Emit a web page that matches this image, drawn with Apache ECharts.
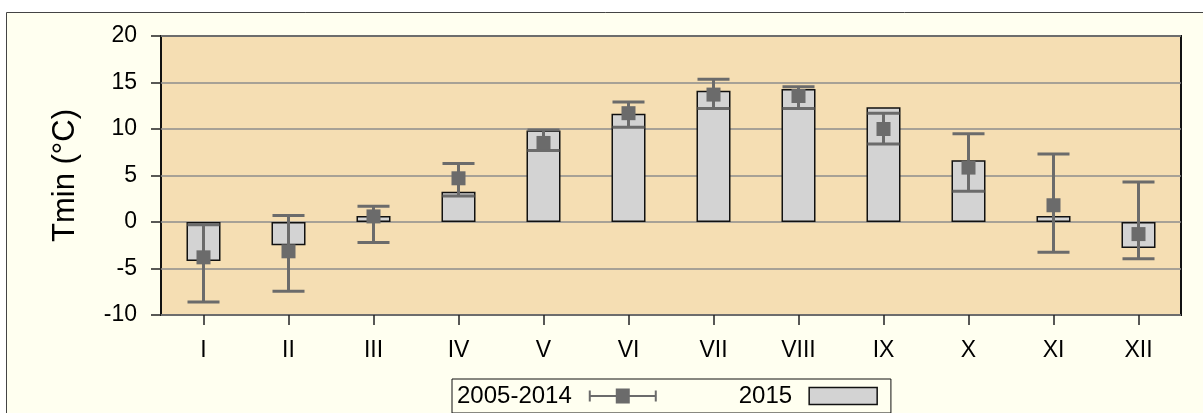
<!DOCTYPE html>
<html>
<head>
<meta charset="utf-8">
<script src="https://cdn.jsdelivr.net/npm/echarts@6/dist/echarts.min.js"></script>
<style>
  html, body { margin: 0; padding: 0; background: #ffffff; }
  #chart { width: 1203px; height: 413px; }
</style>
</head>
<body>
<div id="chart"></div>
<script>
// Months (Roman numerals)
const months = ['I', 'II', 'III', 'IV', 'V', 'VI', 'VII', 'VIII', 'IX', 'X', 'XI', 'XII'];

// 2015 monthly Tmin (bars)
const tmin2015 = [-4.2, -2.5, 0.65, 3.25, 9.85, 11.65, 14.1, 14.3, 12.35, 6.65, 0.65, -2.8];

// 2005-2014 mean and range (marker + error bar)
const meanRef = [-3.8, -3.15, 0.6, 4.7, 8.5, 11.7, 13.7, 13.55, 10.0, 5.85, 1.8, -1.3];
const lowRef = [-8.6, -7.45, -2.2, 2.8, 7.7, 10.2, 12.2, 12.2, 8.4, 3.3, -3.25, -3.95];
const highRef = [-0.3, 0.7, 1.7, 6.3, 9.9, 12.9, 15.35, 14.55, 11.7, 9.5, 7.3, 4.3];

const yTicks = { min: -10, max: 20, interval: 5 };

const FONT = '"Liberation Sans", Arial, sans-serif';
const ERR_COLOR = '#6b6b6b';

const chart = echarts.init(document.getElementById('chart'));

// legend icon: horizontal error bar with square marker
const errIcon = 'path://M0,3h2v11h-2z M66,3h2v11h-2z M0,7.5h68v2h-68z M27,1h14v15h-14z';

const option = {
  animation: false,
  textStyle: { fontFamily: FONT },
  graphic: [{
    type: 'rect',
    z: -10,
    silent: true,
    shape: { x: 6.5, y: 12.5, width: 1220, height: 420 },
    style: { fill: '#fffff0', stroke: '#444444', lineWidth: 1 }
  }],
  grid: {
    left: 161, right: 22, top: 36, bottom: 98,
    show: true,
    backgroundColor: '#f5deb3',
    borderColor: '#111111',
    borderWidth: 2
  },
  legend: {
    left: 452, top: 379,
    padding: [5, 13, 5, 5],
    backgroundColor: '#fffff0',
    borderColor: '#111111',
    borderWidth: 1,
    align: 'right',
    itemGap: 82,
    itemWidth: 68,
    itemHeight: 17,
    selectedMode: false,
    textStyle: { fontFamily: FONT, fontSize: 24, color: '#000', padding: [0, 12, 0, 0] },
    data: [
      { name: '2005-2014', icon: errIcon, itemStyle: { color: ERR_COLOR, borderWidth: 0 } },
      { name: '2015', icon: 'rect', itemStyle: { color: '#d3d3d3', borderColor: '#111', borderWidth: 1.5 } }
    ]
  },
  xAxis: {
    type: 'category',
    data: months,
    boundaryGap: true,
    axisLine: { show: false, onZero: false },
    axisTick: { show: true, alignWithLabel: true, length: 10, lineStyle: { color: '#222', width: 1.5 } },
    axisLabel: { color: '#000', fontSize: 23, fontFamily: FONT, margin: 24 },
    splitLine: { show: false }
  },
  yAxis: {
    type: 'value',
    min: yTicks.min,
    max: yTicks.max,
    interval: yTicks.interval,
    name: 'Tmin (°C)',
    nameLocation: 'middle',
    nameGap: 80,
    nameTextStyle: { fontSize: 31, fontFamily: FONT, color: '#000' },
    axisLine: { show: false },
    axisTick: { show: true, length: 10, lineStyle: { color: '#222', width: 1.5 } },
    axisLabel: { color: '#000', fontSize: 23, fontFamily: FONT, margin: 24 },
    splitLine: { show: true, lineStyle: { color: '#8c8c8c', width: 1.5 } }
  },
  series: [
    {
      name: '2015',
      type: 'bar',
      data: tmin2015,
      barWidth: 34,
      z: 2,
      itemStyle: { color: '#d3d3d3', borderColor: '#111', borderWidth: 1.5 }
    },
    {
      name: '2005-2014',
      type: 'custom',
      z: 3,
      data: months.map((m, i) => [i, lowRef[i], highRef[i]]),
      renderItem: function (params, api) {
        const lo = api.coord([api.value(0), api.value(1)]);
        const hi = api.coord([api.value(0), api.value(2)]);
        const hw = 16;
        const style = { stroke: ERR_COLOR, lineWidth: 3, fill: null };
        return {
          type: 'group',
          children: [
            { type: 'line', shape: { x1: lo[0], y1: lo[1], x2: hi[0], y2: hi[1] }, style: style },
            { type: 'line', shape: { x1: lo[0] - hw, y1: lo[1], x2: lo[0] + hw, y2: lo[1] }, style: style },
            { type: 'line', shape: { x1: hi[0] - hw, y1: hi[1], x2: hi[0] + hw, y2: hi[1] }, style: style }
          ]
        };
      }
    },
    {
      name: '2005-2014',
      type: 'scatter',
      z: 4,
      data: meanRef,
      symbol: 'rect',
      symbolSize: 14,
      itemStyle: { color: ERR_COLOR, opacity: 1 }
    }
  ]
};

chart.setOption(option);
</script>
</body>
</html>
